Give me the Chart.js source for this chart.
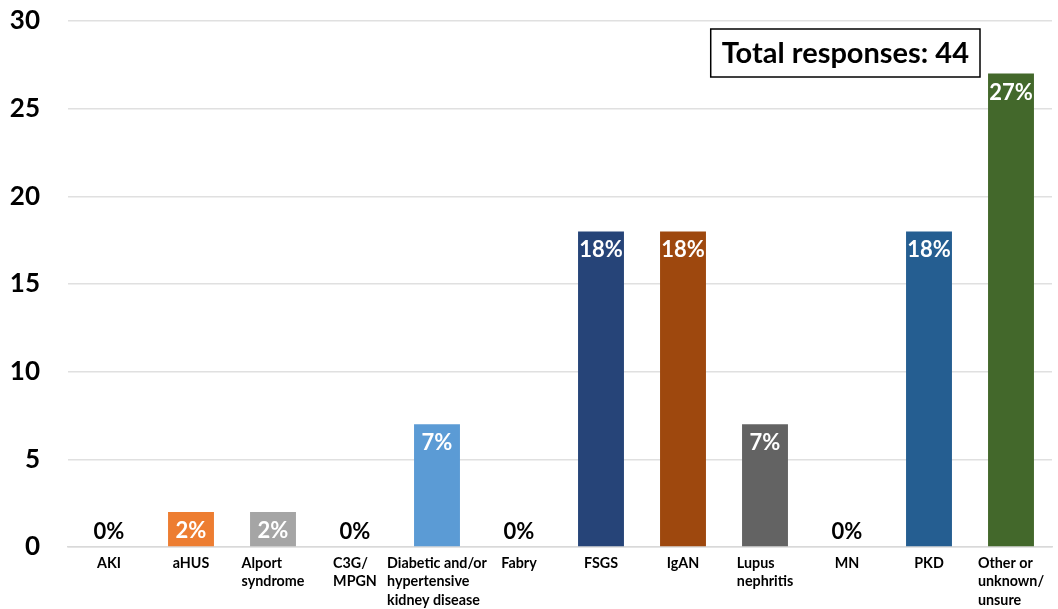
<!DOCTYPE html>
<html>
<head>
<meta charset="utf-8">
<script src="https://cdn.jsdelivr.net/npm/chart.js@4"></script>
<style>
  html, body { margin: 0; padding: 0; background: #fff; }
  #wrap { width: 1058px; height: 609px; position: relative; }
</style>
</head>
<body>
<div id="wrap"><canvas id="kidneyChart"></canvas></div>
<script>
const categories = [
  ["AKI"],
  ["aHUS"],
  ["Alport", "syndrome"],
  ["C3G/", "MPGN"],
  ["Diabetic and/or", "hypertensive", "kidney disease"],
  ["Fabry"],
  ["FSGS"],
  ["IgAN"],
  ["Lupus", "nephritis"],
  ["MN"],
  ["PKD"],
  ["Other or", "unknown/", "unsure"],
];
const counts = [0, 2, 2, 0, 7, 0, 18, 18, 7, 0, 18, 27];
const percentLabels = ["0%", "2%", "2%", "0%", "7%", "0%", "18%", "18%", "7%", "0%", "18%", "27%"];
const barColors = [
  "#4472C4", "#ED7D31", "#A5A5A5", "#FFC000", "#5B9BD5", "#70AD47",
  "#264478", "#9E480E", "#636363", "#997300", "#255E91", "#43682B",
];
const yTicks = [0, 5, 10, 15, 20, 25, 30];
const totalResponses = 44;

const FONT = "Lato, 'Open Sans', sans-serif";

// value labels: white inside the top of a bar, black above an empty one
const valueLabels = {
  id: "valueLabels",
  afterDatasetsDraw(chart) {
    const ctx = chart.ctx;
    const meta = chart.getDatasetMeta(0);
    ctx.save();
    ctx.font = "bold 22px " + FONT;
    ctx.textAlign = "center";
    ctx.textBaseline = "middle";
    meta.data.forEach((bar, i) => {
      if (counts[i] > 0) {
        ctx.fillStyle = "#ffffff";
        ctx.fillText(percentLabels[i], bar.x, bar.y + 19);
      } else {
        ctx.fillStyle = "#000000";
        ctx.fillText(percentLabels[i], bar.x, bar.base - 15);
      }
    });
    ctx.restore();
  },
};

// category names under the axis, lines left-aligned inside a centred block
const categoryLabels = {
  id: "categoryLabels",
  afterDraw(chart) {
    const ctx = chart.ctx;
    const xScale = chart.scales.x;
    const top = chart.chartArea.bottom + 16;
    ctx.save();
    ctx.font = "bold 14.3px " + FONT;
    ctx.fillStyle = "#000000";
    ctx.textAlign = "left";
    ctx.textBaseline = "middle";
    categories.forEach((lines, i) => {
      const cx = xScale.getPixelForValue(i);
      const w = Math.max(...lines.map((l) => ctx.measureText(l).width));
      const x0 = cx - w / 2;
      lines.forEach((line, j) => {
        ctx.fillText(line, x0, top + j * 18.5);
      });
    });
    ctx.restore();
  },
};

// "Total responses" box in the upper right of the plot
const totalBox = {
  id: "totalBox",
  afterDraw(chart) {
    const ctx = chart.ctx;
    const area = chart.chartArea;
    const text = "Total responses: " + totalResponses;
    ctx.save();
    ctx.font = "bold 29px " + FONT;
    const w = ctx.measureText(text).width + 22;
    const h = 48;
    const right = chart.scales.x.getPixelForValue(11) - 31;
    const x = right - w;
    const y = area.top + 8;
    ctx.fillStyle = "#ffffff";
    ctx.fillRect(x, y, w, h);
    ctx.strokeStyle = "#000000";
    ctx.lineWidth = 1.5;
    ctx.strokeRect(x, y, w, h);
    ctx.fillStyle = "#000000";
    ctx.textAlign = "center";
    ctx.textBaseline = "middle";
    ctx.fillText(text, x + w / 2, y + h / 2 + 1);
    ctx.restore();
  },
};

const chartEl = document.getElementById("kidneyChart");
new Chart(chartEl, {
  type: "bar",
  data: {
    labels: categories.map((c) => c.join(" ")),
    datasets: [
      {
        data: counts,
        backgroundColor: barColors,
        borderWidth: 0,
        categoryPercentage: 1,
        barPercentage: 0.56,
      },
    ],
  },
  options: {
    responsive: true,
    maintainAspectRatio: false,
    animation: false,
    layout: { padding: { top: 0, right: 6, bottom: 54, left: 8 } },
    plugins: {
      legend: { display: false },
      tooltip: { enabled: false },
    },
    scales: {
      x: {
        grid: { display: false },
        border: { color: "#d9d9d9", width: 1.5 },
        ticks: { display: false },
      },
      y: {
        min: 0,
        max: 30,
        afterBuildTicks: (axis) => {
          axis.ticks = yTicks.map((v) => ({ value: v }));
        },
        afterFit: (axis) => {
          axis.width = 60;
          axis.paddingTop = 21;
          axis.paddingBottom = 13;
        },
        grid: { color: "#e0e0e0", lineWidth: 1.5, drawTicks: false },
        border: { display: false },
        ticks: {
          padding: 28,
          color: "#000000",
          font: { family: FONT, size: 26, weight: "bold" },
        },
      },
    },
  },
  plugins: [valueLabels, categoryLabels, totalBox],
});
</script>
</body>
</html>
